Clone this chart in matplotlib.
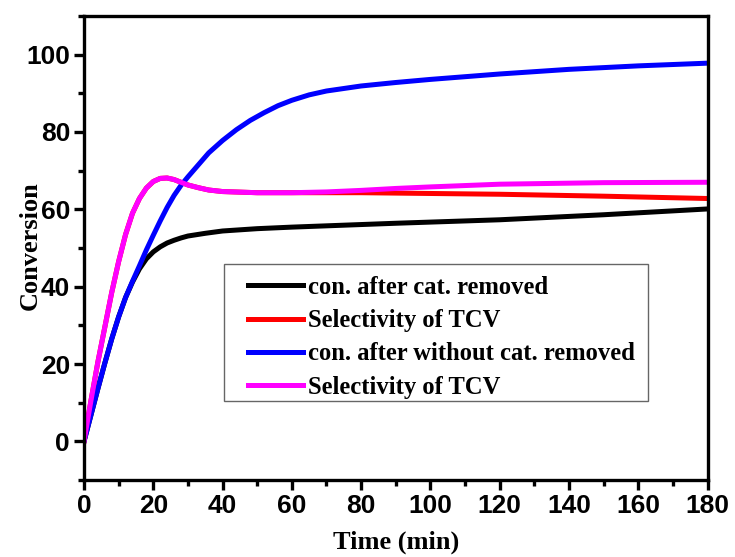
import numpy as np
import matplotlib.pyplot as plt
from matplotlib.ticker import MultipleLocator
from matplotlib.patches import Rectangle

# time axis (min) and curves
t_black = [0, 2, 4, 6, 8, 10, 12, 14, 16, 18, 20, 22, 24, 26, 28, 30, 35, 40,
           50, 60, 75, 90, 120, 150, 180]
v_black = [0, 6.8, 13.6, 20.2, 26.5, 32.2, 37.2, 41.2, 44.6, 47.2, 49.0, 50.3,
           51.3, 52.0, 52.6, 53.1, 53.8, 54.4, 55.0, 55.4, 55.9, 56.4, 57.3, 58.6,
           60.1]

t_blue = [0, 2, 4, 6, 8, 10, 12, 14, 16, 18, 20, 22, 24, 26, 28, 30, 33, 36, 40,
          44, 48, 52, 56, 60, 65, 70, 80, 90, 100, 120, 140, 160, 180]
v_blue = [0, 6.8, 13.6, 20.2, 26.5, 32.2, 37.2, 41.4, 45.4, 49.5, 53.3, 57.0,
          60.5, 63.6, 66.2, 68.4, 71.5, 74.6, 77.8, 80.6, 83.0, 85.0, 86.8, 88.2,
          89.6, 90.6, 91.9, 92.8, 93.6, 95.0, 96.2, 97.1, 97.8]

t_sel = [0, 2, 4, 6, 8, 10, 12, 14, 16, 18, 20, 22, 24, 26, 28, 30, 33, 36, 40,
         50, 60, 70, 80, 90, 100, 120, 150, 180]
v_red = [0, 10.5, 20.5, 29.5, 38.5, 46.5, 53.5, 59, 62.8, 65.5, 67.2, 68, 68.1,
         67.7, 67, 66.3, 65.6, 65.0, 64.6, 64.3, 64.3, 64.3, 64.3, 64.2, 64.1,
         63.9, 63.4, 62.8]
v_magenta = [0, 10.5, 20.5, 29.5, 38.5, 46.5, 53.5, 59, 62.8, 65.5, 67.2, 68, 68.1,
             67.7, 67, 66.3, 65.6, 65.0, 64.6, 64.3, 64.3, 64.5, 64.9, 65.4, 65.8,
             66.5, 66.9, 67.0]

labels = ['con. after cat. removed', 'Selectivity of TCV',
          'con. after without cat. removed', 'Selectivity of TCV']

fig = plt.figure(figsize=(7.35, 5.57), dpi=100)
ax = fig.add_axes([0.1143, 0.1382, 0.8483, 0.8331])

lw = 3.6
ax.plot(t_black, v_black, color='black', lw=lw, label=labels[0])
ax.plot(t_sel, v_red, color='red', lw=lw, label=labels[1])
ax.plot(t_blue, v_blue, color='blue', lw=lw, label=labels[2])
ax.plot(t_sel, v_magenta, color='magenta', lw=lw, label=labels[3])

ax.set_xlim(0, 180)
ax.set_ylim(-10, 110)
ax.xaxis.set_major_locator(MultipleLocator(20))
ax.xaxis.set_minor_locator(MultipleLocator(10))
ax.yaxis.set_major_locator(MultipleLocator(20))
ax.yaxis.set_minor_locator(MultipleLocator(10))
ax.set_yticks([0, 20, 40, 60, 80, 100])

for sp in ax.spines.values():
    sp.set_linewidth(2.4)
ax.tick_params(which='major', direction='out', length=7, width=2.4,
               labelsize=19, pad=3)
ax.tick_params(which='minor', direction='out', length=4.3, width=2.4)
for lab in ax.get_xticklabels() + ax.get_yticklabels():
    lab.set_fontfamily('Liberation Sans')
    lab.set_fontweight('bold')

ax.set_xlabel('Time (min)', fontfamily='Liberation Serif', fontweight='bold',
              fontsize=19, labelpad=9)
ax.set_ylabel('Conversion', fontfamily='Liberation Serif', fontweight='bold',
              fontsize=19)
ax.yaxis.set_label_coords(-0.068, 0.506)

# legend frame drawn separately so the inner padding can match the original
ax.add_patch(Rectangle((0.2245, 0.170), 0.9046 - 0.2245, 0.4655 - 0.170,
                       transform=ax.transAxes, facecolor='white',
                       edgecolor='#666666', lw=1.0, zorder=4))
leg = ax.legend(loc='upper left', bbox_to_anchor=(0.263, 0.440),
                borderaxespad=0, borderpad=0, frameon=False,
                handlelength=2.24, handletextpad=0.2, labelspacing=0.42,
                prop={'family': 'Liberation Serif', 'weight': 'bold', 'size': 17.7})
leg.set_zorder(5)

fig.savefig('out.png', dpi=100)
